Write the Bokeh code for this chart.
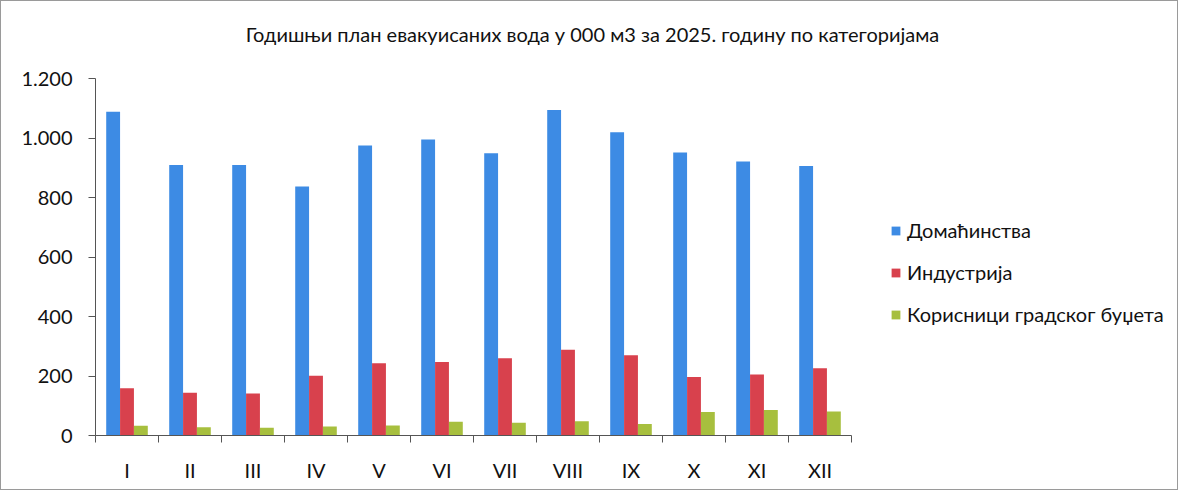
import numpy as np
from bokeh.plotting import figure
from bokeh.models import (ColumnDataSource, Range1d, FixedTicker, Legend, LegendItem, Label)
from bokeh.embed import file_html
from bokeh.resources import INLINE

# ---- data ----
months = ["I", "II", "III", "IV", "V", "VI", "VII", "VIII", "IX", "X", "XI", "XII"]
domacinstva = [1088, 909, 909, 837, 975, 995, 949, 1094, 1019, 951, 921, 906]
industrija = [159, 144, 141, 201, 243, 247, 260, 288, 270, 197, 205, 226]
korisnici = [33, 28, 26, 30, 34, 46, 43, 48, 39, 79, 86, 81]
series_names = ["Домаћинства", "Индустрија", "Корисници градског буџета"]
series_colors = ["#3D8BE4", "#D8414D", "#A7BF3E"]
y_ticks = [0, 200, 400, 600, 800, 1000, 1200]
y_tick_labels = ["0", "200", "400", "600", "800", "1.000", "1.200"]
title_text = "Годишњи план евакуисаних вода у 000 м3 за 2025. годину по категоријама"

FONT = "Lato"

n = len(months)
centers = np.arange(n) + 0.5
bw = 0.22
offsets = [-bw, 0.0, bw]

W, H = 1178, 490
ML, MB = 94, 56
FW, FH = W - ML, H - MB           # frame spans legend and title areas too
AXW, AXH = 756, 357               # pixel extent of the actual axes
x_end = n * FW / AXW
y_end = 1200 * FH / AXH

p = figure(width=W, height=H, output_backend="svg", toolbar_location=None,
           x_range=Range1d(0, x_end), y_range=Range1d(0, y_end),
           min_border_left=ML, min_border_top=0, min_border_right=0, min_border_bottom=MB)
p.styles = {"border": "1px solid #9a9a9a"}
p.outline_line_color = None
p.xgrid.visible = False
p.ygrid.visible = False
p.background_fill_color = "white"
p.border_fill_color = "white"

renderers = []
for vals, off, col in zip([domacinstva, industrija, korisnici], offsets, series_colors):
    src = ColumnDataSource(dict(x=centers + off, top=vals))
    r = p.vbar(x="x", top="top", width=bw, source=src, fill_color=col, line_color=None)
    renderers.append(r)

# x axis
p.xaxis.bounds = (0, n)
p.xaxis.ticker = FixedTicker(ticks=list(centers), minor_ticks=list(np.arange(n + 1)))
p.xaxis.major_label_overrides = {float(c): m for c, m in zip(centers, months)}
p.xaxis.major_tick_line_color = None
p.xaxis.major_tick_out = 0
p.xaxis.major_tick_in = 0
p.xaxis.minor_tick_out = 7
p.xaxis.minor_tick_in = 0
p.xaxis.minor_tick_line_color = "#555555"
p.xaxis.axis_line_color = "#555555"
p.xaxis.major_label_text_font = FONT
p.xaxis.major_label_text_font_size = "20px"
p.xaxis.major_label_text_color = "#111111"
p.xaxis.major_label_standoff = 15

# y axis
p.yaxis.bounds = (0, 1200)
p.yaxis.ticker = FixedTicker(ticks=y_ticks)
p.yaxis.major_label_overrides = {t: l for t, l in zip(y_ticks, y_tick_labels)}
p.yaxis.minor_tick_line_color = None
p.yaxis.major_tick_out = 7
p.yaxis.major_tick_in = 0
p.yaxis.major_tick_line_color = "#555555"
p.yaxis.axis_line_color = "#555555"
p.yaxis.major_label_text_font = FONT
p.yaxis.major_label_text_font_size = "20px"
p.yaxis.major_label_text_color = "#111111"
p.yaxis.major_label_standoff = 16

# title (screen units relative to the frame's bottom-left)
p.add_layout(Label(x=497, y=402, x_units="screen", y_units="screen", text=title_text,
                   text_font=FONT, text_font_size="20px", text_color="#111111",
                   text_align="center", text_baseline="middle"))

# legend
legend = Legend(items=[LegendItem(label=nm, renderers=[r]) for nm, r in zip(series_names, renderers)],
                location=(795, 109), orientation="vertical",
                label_text_font=FONT, label_text_font_size="20px", label_text_color="#111111",
                glyph_width=11, glyph_height=11, label_height=20, label_standoff=6,
                spacing=18, padding=0, margin=0, border_line_color=None,
                background_fill_alpha=0)
p.add_layout(legend, "center")

open("out.html", "w").write(file_html(p, INLINE))
